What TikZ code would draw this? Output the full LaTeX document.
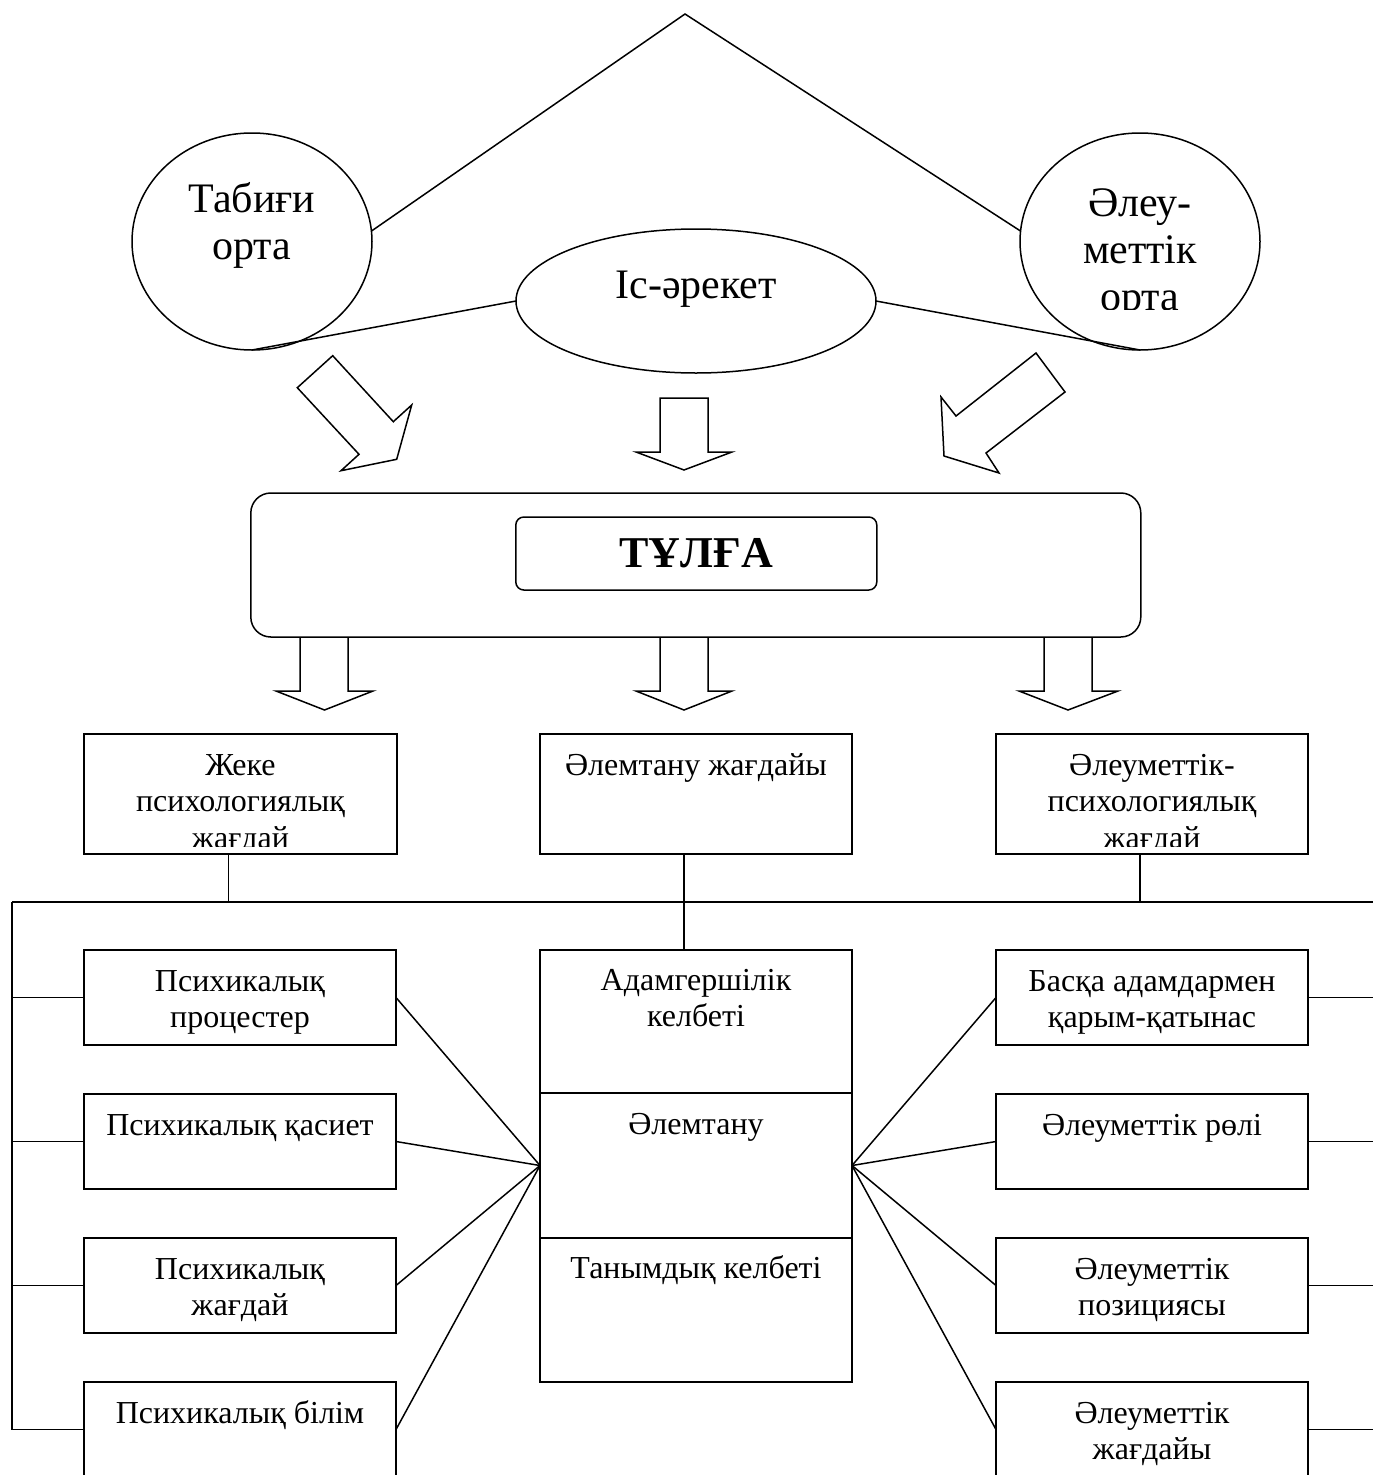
\documentclass[tikz,border=0pt]{standalone}
\usepackage{fontspec}
\setmainfont{Liberation Serif}
\usetikzlibrary{shapes.geometric}
\newcommand{\mlines}[1]{\begin{tabular}[t]{@{}c@{}}#1\end{tabular}}
\begin{document}
\begin{tikzpicture}[x=1pt,y=-1pt, line width=1.5pt, line join=miter,
  box/.style={draw, rectangle, inner sep=0pt, outer sep=0pt},
  oval/.style={draw, ellipse, inner sep=0pt, outer sep=0pt},
  txt/.style={inner sep=0pt, anchor=base, font=\fontsize{32}{36.5}\selectfont},
  big/.style={inner sep=0pt, anchor=base, font=\fontsize{42}{47}\selectfont},
  barrow/.style={draw, line join=miter}]
\useasboundingbox (0,0) rectangle (1373,1475);
\clip (0,0) rectangle (1373,1475);

% top: environments
\coordinate (apex) at (685,14);
\node[oval, minimum width=240pt, minimum height=217pt] (tab) at (252,241.5) {};
\node[oval, minimum width=240pt, minimum height=217pt] (ale) at (1140,241.5) {};
\node[oval, minimum width=360pt, minimum height=144pt] (is) at (696,301) {};
\draw (tab.5) -- (apex) -- (ale.175);
\draw (is.west) -- (tab.south);
\draw (is.east) -- (ale.south);

\node[big] (tabt) at (252,212) {\mlines{Табиғи\\орта}};
\begin{scope}
  \clip (1020,120) rectangle (1260,309);
  \node[big] (alet) at (1140,216) {\mlines{Әлеу-\\меттік\\орта}};
\end{scope}
\node[big] (ist) at (696,298) {Іс-әрекет};

% block arrows to the person
\draw[barrow] (332.7,355.7) -- (297.3,387.7) -- (359,454.3) -- (341,470.7) -- (396.7,459.3) -- (411.7,405) -- (393.3,421.7) -- cycle;
\draw[barrow] (660,398) -- (660,452) -- (636,452) -- (684,470) -- (732,452) -- (708,452) -- (708,398) -- cycle;
\draw[barrow] (1036,353) -- (1065,392) -- (986,453) -- (999,473) -- (944,456) -- (941,397) -- (956,416) -- cycle;

% block arrows down
\draw[barrow] (300,637) -- (300,691) -- (276,691) -- (324.5,710) -- (373,691) -- (348,691) -- (348,637);
\draw[barrow] (660,637) -- (660,691) -- (636,691) -- (684,710) -- (732,691) -- (708,691) -- (708,637);
\draw[barrow] (1044,637) -- (1044,691) -- (1019,691) -- (1068,710) -- (1118,691) -- (1092,691) -- (1092,637);

% person
\node[box, rounded corners=20pt, minimum width=890pt, minimum height=144pt] (pers) at (695.8,565) {};
\node[box, rounded corners=8pt, minimum width=361pt, minimum height=73pt,
      font=\bfseries\fontsize{44}{50}\selectfont] (tulga) at (696.3,553.5) {ТҰЛҒА};

% row 1
\node[box, minimum width=313pt, minimum height=120pt] (jeke) at (240.5,794) {};
\node[box, minimum width=312pt, minimum height=120pt] (alem) at (696,794) {};
\node[box, minimum width=312pt, minimum height=120pt] (aleps) at (1152,794) {};
\begin{scope}
  \clip (84,734) rectangle (397,846);
  \node[txt] at ([yshift=-41pt]jeke.north) {\mlines{Жеке\\психологиялық\\жағдай}};
\end{scope}
\node[txt] at ([yshift=-41pt]alem.north) {Әлемтану жағдайы};
\begin{scope}
  \clip (996,734) rectangle (1308,846);
  \node[txt] at ([yshift=-41pt]aleps.north) {\mlines{Әлеуметтік-\\психологиялық\\жағдай}};
\end{scope}

% lower boxes
\node[box, minimum width=312pt, minimum height=95pt] (l1) at (240,997.5) {};
\node[box, minimum width=312pt, minimum height=95pt] (l2) at (240,1141.5) {};
\node[box, minimum width=312pt, minimum height=95pt] (l3) at (240,1285.5) {};
\node[box, minimum width=312pt, minimum height=95pt] (l4) at (240,1429.5) {};
\node[box, minimum width=312pt, minimum height=95pt] (r1) at (1152,997.5) {};
\node[box, minimum width=312pt, minimum height=95pt] (r2) at (1152,1141.5) {};
\node[box, minimum width=312pt, minimum height=95pt] (r3) at (1152,1285.5) {};
\node[box, minimum width=312pt, minimum height=95pt] (r4) at (1152,1429.5) {};
\node[box, minimum width=312pt, minimum height=143pt] (c1) at (696,1021.5) {};
\node[box, minimum width=312pt, minimum height=145pt] (c2) at (696,1165.5) {};
\node[box, minimum width=312pt, minimum height=144pt] (c3) at (696,1310) {};

\node[txt] at ([yshift=-41pt]l1.north) {\mlines{Психикалық\\процестер}};
\node[txt] at ([yshift=-41pt]l2.north) {Психикалық қасиет};
\node[txt] at ([yshift=-41pt]l3.north) {\mlines{Психикалық\\жағдай}};
\node[txt] at ([yshift=-41pt]l4.north) {Психикалық білім};
\node[txt] at ([yshift=-40pt]c1.north) {\mlines{Адамгершілік\\келбеті}};
\node[txt] at ([yshift=-41pt]c2.north) {Әлемтану};
\node[txt] at ([yshift=-40pt]c3.north) {Танымдық келбеті};
\node[txt] at ([yshift=-41pt]r1.north) {\mlines{Басқа адамдармен\\қарым-қатынас}};
\node[txt] at ([yshift=-41pt]r2.north) {Әлеуметтік рөлі};
\node[txt] at ([yshift=-41pt]r3.north) {\mlines{Әлеуметтік\\позициясы}};
\node[txt] at ([yshift=-41pt]r4.north) {\mlines{Әлеуметтік\\жағдайы}};

% bus lines
\coordinate (busL) at (12,902);
\coordinate (busR) at (1373,902);
\draw (busL) -- (busR);
\draw ([xshift=-12pt]jeke.south) -- ([xshift=-12pt]jeke.south |- busL);
\draw ([xshift=-12pt]alem.south) -- ([xshift=-12pt]alem.south |- c1.north);
\draw ([xshift=-12pt]aleps.south) -- ([xshift=-12pt]aleps.south |- busL);
\draw (busL) -- (busL |- l4.west);
\foreach \n in {l1,l2,l3,l4} {
  \draw (busL |- \n.west) -- (\n.west);
  \draw (\n.east) -- (c2.west);
}
\foreach \n in {r1,r2,r3,r4} {
  \draw (\n.east) -- (busR |- \n.east);
  \draw (\n.west) -- (c2.east);
}
\end{tikzpicture}
\end{document}
